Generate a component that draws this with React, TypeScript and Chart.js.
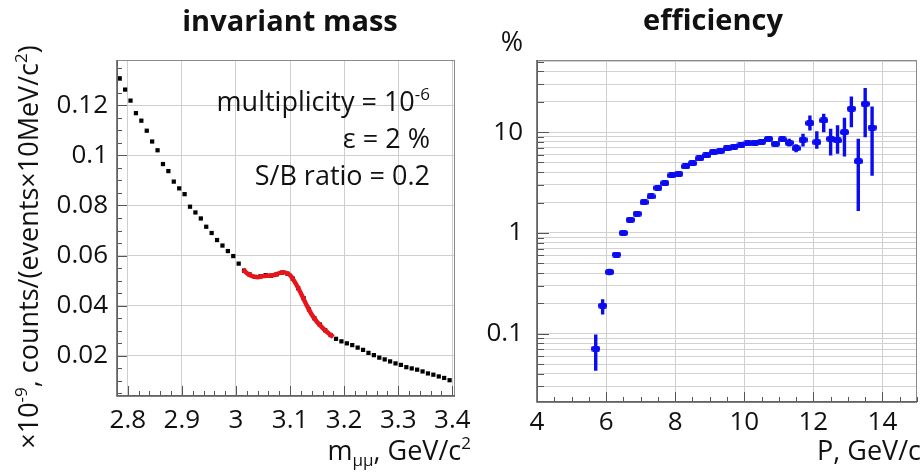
import React, { useEffect, useRef } from 'react';
import { Chart, registerables } from 'chart.js';
Chart.register(...registerables);

const FONT = '"Open Sans", "DejaVu Sans", sans-serif';
const TEXT = '#111';

// ---------- invariant mass ----------
const massBins = [
  2.785, 2.795, 2.805, 2.815, 2.825, 2.835, 2.845, 2.855, 2.865, 2.875,
  2.885, 2.895, 2.905, 2.915, 2.925, 2.935, 2.945, 2.955, 2.965, 2.975,
  2.985, 2.995, 3.005, 3.015, 3.025, 3.035, 3.045, 3.055, 3.065, 3.075,
  3.085, 3.095, 3.105, 3.115, 3.125, 3.135, 3.145, 3.155, 3.165, 3.175,
  3.185, 3.195, 3.205, 3.215, 3.225, 3.235, 3.245, 3.255, 3.265, 3.275,
  3.285, 3.295, 3.305, 3.315, 3.325, 3.335, 3.345, 3.355, 3.365, 3.375,
  3.385, 3.395,
];
const massCounts = [
  0.1307, 0.1262, 0.1218, 0.1168, 0.1138, 0.1098, 0.1055, 0.102, 0.0965, 0.0937,
  0.0895, 0.0868, 0.0845, 0.0795, 0.0772, 0.0748, 0.0715, 0.069, 0.0662, 0.064,
  0.0618, 0.0598, 0.0568, 0.054, 0.0525, 0.0515, 0.0517, 0.0522, 0.052, 0.0525,
  0.0532, 0.0528, 0.0508, 0.047, 0.043, 0.0385, 0.035, 0.0325, 0.0302, 0.0283,
  0.0268, 0.0258, 0.025, 0.0243, 0.0233, 0.0224, 0.0212, 0.0203, 0.0193, 0.0186,
  0.0178, 0.017, 0.0164, 0.0155, 0.015, 0.0145, 0.0138, 0.013, 0.0125, 0.0118,
  0.0112, 0.0103,
];
const fitMass = [3.013, 3.02, 3.03, 3.04, 3.05, 3.06, 3.07, 3.08, 3.09, 3.1, 3.11, 3.12, 3.13, 3.14, 3.15, 3.16, 3.17, 3.18];
const fitCounts = [0.0545, 0.053, 0.0518, 0.0514, 0.0518, 0.052, 0.0522, 0.053, 0.0533, 0.0522, 0.049, 0.045, 0.0405, 0.0365, 0.0335, 0.0312, 0.0292, 0.0275];
const massXTicks = [2.8, 2.9, 3, 3.1, 3.2, 3.3, 3.4];
const countYTicks = [0.02, 0.04, 0.06, 0.08, 0.1, 0.12];

// ---------- efficiency ----------
const momentum = [
  5.7, 5.9, 6.1, 6.3, 6.5, 6.7, 6.9, 7.1, 7.3, 7.5, 7.7, 7.9, 8.1, 8.3, 8.5, 8.7, 8.9, 9.1, 9.3, 9.5,
  9.7, 9.9, 10.1, 10.3, 10.5, 10.7, 10.9, 11.1, 11.3, 11.5, 11.7, 11.9, 12.1, 12.3, 12.5, 12.7, 12.9,
  13.1, 13.3, 13.5, 13.7,
];
const efficiency = [
  0.071, 0.19, 0.41, 0.61, 1.0, 1.35, 1.55, 2.02, 2.3, 2.8, 3.12, 3.72, 3.86, 4.57, 4.92, 5.48, 5.87,
  6.3, 6.49, 6.89, 7.1, 7.38, 7.73, 7.85, 8.03, 8.6, 7.67, 8.47, 7.85, 6.93, 8.41, 12.3, 7.96, 13.1,
  8.6, 8.28, 10.0, 17.1, 5.15, 19.1, 11.1,
];
const effLow = [
  0.043, 0.155, 0.38, 0.58, 0.97, 1.3, 1.5, 1.96, 2.24, 2.73, 3.04, 3.63, 3.77, 4.46, 4.8, 5.35, 5.73,
  6.15, 6.33, 6.72, 6.92, 7.19, 7.53, 7.65, 7.82, 8.3, 7.3, 8.0, 7.2, 6.3, 7.2, 10.4, 6.84, 10.0,
  5.87, 6.1, 5.74, 11.2, 1.65, 8.9, 3.7,
];
const effHigh = [
  0.098, 0.22, 0.44, 0.64, 1.03, 1.4, 1.6, 2.08, 2.36, 2.87, 3.2, 3.81, 3.95, 4.68, 5.04, 5.61, 6.01,
  6.45, 6.65, 7.06, 7.28, 7.57, 7.93, 8.05, 8.24, 8.9, 8.05, 8.95, 8.6, 7.6, 9.63, 14.6, 10.2, 15.2,
  10.8, 11.7, 13.9, 22.6, 8.6, 27.5, 18.0,
];
const pXTicks = [4, 6, 8, 10, 12, 14];
const effYTicks = [
  0.03, 0.04, 0.05, 0.06, 0.07, 0.08, 0.09, 0.1, 0.2, 0.3, 0.4, 0.5, 0.6, 0.7, 0.8, 0.9,
  1, 2, 3, 4, 5, 6, 7, 8, 9, 10, 20, 30, 40, 50,
];
const effLabelled = [0.1, 1, 10];

type Seg = { t: string; k?: 'sup' | 'sub' };

function drawRich(ctx: CanvasRenderingContext2D, segs: Seg[], x: number, y: number, size: number, align: string, weight = 'normal') {
  const f = (k?: string) => `${weight} ${k ? Math.round(size * 0.62) : size}px ${FONT}`;
  let w = 0;
  for (const s of segs) { ctx.font = f(s.k); w += ctx.measureText(s.t).width; }
  let cx = align === 'right' ? x - w : align === 'center' ? x - w / 2 : x;
  ctx.textAlign = 'left';
  ctx.textBaseline = 'alphabetic';
  for (const s of segs) {
    ctx.font = f(s.k);
    const dy = s.k === 'sup' ? -size * 0.4 : s.k === 'sub' ? size * 0.22 : 0;
    ctx.fillText(s.t, cx, y + dy);
    cx += ctx.measureText(s.t).width;
  }
}

function drawFrame(ctx: CanvasRenderingContext2D, a: any) {
  ctx.strokeStyle = '#8a8a8a';
  ctx.lineWidth = 1;
  ctx.strokeRect(a.left + 0.5, a.top + 0.5, a.right - a.left - 1, a.bottom - a.top - 1);
  ctx.strokeStyle = '#555';
  ctx.lineWidth = 1.5;
  ctx.beginPath();
  ctx.moveTo(a.left, a.top);
  ctx.lineTo(a.left, a.bottom);
  ctx.lineTo(a.right, a.bottom);
  ctx.stroke();
}

const massDecor = {
  id: 'massDecor',
  afterDraw(chart: any) {
    const { ctx, chartArea: a, scales } = chart;
    const xs = scales.x, ys = scales.y;
    ctx.save();
    ctx.strokeStyle = '#555';
    ctx.lineWidth = 1;
    ctx.beginPath();
    for (let k = 0; k <= 31; k++) {
      const n = 278 + 2 * k;
      const px = Math.round(xs.getPixelForValue(n / 100)) + 0.5;
      const len = n % 10 === 0 ? 10 : 5;
      ctx.moveTo(px, a.bottom);
      ctx.lineTo(px, a.bottom - len);
    }
    for (let k = 1; k <= 27; k++) {
      const py = Math.round(ys.getPixelForValue((5 * k) / 1000)) + 0.5;
      const len = k % 4 === 0 ? 10 : 5;
      ctx.moveTo(a.left, py);
      ctx.lineTo(a.left + len, py);
    }
    ctx.stroke();
    drawFrame(ctx, a);

    ctx.fillStyle = TEXT;
    drawRich(ctx, [{ t: 'invariant mass' }], (a.left + a.right) / 2 + 4, 31, 29, 'center', 'bold');
    drawRich(ctx, [{ t: 'multiplicity = 10' }, { t: '-6', k: 'sup' }], 430, 111, 27, 'right');
    drawRich(ctx, [{ t: 'ε = 2 %' }], 430, 148, 27, 'right');
    drawRich(ctx, [{ t: 'S/B ratio = 0.2' }], 430, 185, 27, 'right');
    drawRich(ctx, [{ t: 'm' }, { t: 'μμ', k: 'sub' }, { t: ', GeV/c' }, { t: '2', k: 'sup' }], 471, 460, 27, 'right');
    ctx.translate(38, 247);
    ctx.rotate(-Math.PI / 2);
    drawRich(ctx, [{ t: '×10' }, { t: '-9', k: 'sup' }, { t: ', counts/(events×10MeV/c' }, { t: '2', k: 'sup' }, { t: ')' }], 0, 0, 27, 'center');
    ctx.restore();
  },
};

const effDecor = {
  id: 'effDecor',
  beforeDatasetsDraw(chart: any) {
    const { ctx, chartArea: a, scales } = chart;
    ctx.save();
    ctx.beginPath();
    ctx.rect(a.left, a.top, a.right - a.left, a.bottom - a.top);
    ctx.clip();
    ctx.strokeStyle = '#0b0bf0';
    ctx.lineWidth = 3.4;
    ctx.beginPath();
    for (let i = 0; i < momentum.length; i++) {
      const px = scales.x.getPixelForValue(momentum[i]);
      ctx.moveTo(px, scales.y.getPixelForValue(effLow[i]));
      ctx.lineTo(px, scales.y.getPixelForValue(effHigh[i]));
    }
    ctx.stroke();
    ctx.restore();
  },
  afterDraw(chart: any) {
    const { ctx, chartArea: a, scales } = chart;
    const xs = scales.x, ys = scales.y;
    ctx.save();
    ctx.strokeStyle = '#555';
    ctx.lineWidth = 1;
    ctx.beginPath();
    for (let k = 0; k <= 22; k++) {
      const px = Math.round(xs.getPixelForValue(4 + 0.5 * k)) + 0.5;
      const len = k % 4 === 0 ? 10 : 5;
      ctx.moveTo(px, a.bottom);
      ctx.lineTo(px, a.bottom - len);
    }
    for (const v of effYTicks) {
      const py = Math.round(ys.getPixelForValue(v)) + 0.5;
      const len = effLabelled.includes(v) ? 12 : 7;
      ctx.moveTo(a.left, py);
      ctx.lineTo(a.left + len, py);
    }
    ctx.stroke();
    drawFrame(ctx, a);
    ctx.fillStyle = TEXT;
    drawRich(ctx, [{ t: 'efficiency' }], 243, 30, 29, 'center', 'bold');
    drawRich(ctx, [{ t: '%' }], 42, 51, 27, 'center');
    drawRich(ctx, [{ t: 'P, GeV/c' }], 451, 460, 27, 'right');
    ctx.restore();
  },
};

function tickFont() {
  return { family: FONT, size: 26 };
}

export default function App() {
  const leftRef = useRef<HTMLCanvasElement>(null);
  const rightRef = useRef<HTMLCanvasElement>(null);

  useEffect(() => {
    const marker = document.createElement('canvas');
    marker.width = 9;
    marker.height = 6;
    const mctx = marker.getContext('2d')!;
    mctx.fillStyle = '#0b0bf0';
    mctx.beginPath();
    (mctx as any).roundRect ? (mctx as any).roundRect(0, 0, 9, 6, 2.5) : mctx.rect(0, 0, 9, 6);
    mctx.fill();

    const left = new Chart(leftRef.current!, {
      type: 'scatter',
      data: {
        datasets: [
          {
            data: massBins.map((m, i) => ({ x: m, y: massCounts[i] })),
            pointStyle: 'rect',
            pointRadius: 3,
            backgroundColor: '#000',
            borderColor: '#000',
            borderWidth: 0,
            showLine: false,
            order: 2,
          },
          {
            data: fitMass.map((m, i) => ({ x: m, y: fitCounts[i] })),
            showLine: true,
            borderColor: '#e8141a',
            borderWidth: 4.5,
            pointRadius: 0,
            tension: 0.35,
            order: 1,
          },
        ],
      },
      options: {
        animation: false,
        responsive: false,
        maintainAspectRatio: false,
        layout: { padding: { top: 60, right: 15, left: 0, bottom: 0 } },
        plugins: { legend: { display: false }, tooltip: { enabled: false }, title: { display: false } },
        scales: {
          x: {
            type: 'linear',
            min: 2.78,
            max: 3.405,
            afterBuildTicks: (s: any) => { s.ticks = massXTicks.map((v) => ({ value: v })); },
            afterFit: (s: any) => { s.height = 77; s.paddingLeft = 0; s.paddingRight = 0; },
            grid: { color: '#cfcfcf', drawTicks: false, lineWidth: 1 },
            border: { display: false },
            ticks: { font: tickFont(), color: TEXT, padding: 9, maxRotation: 0, autoSkip: false, callback: (v: any) => String(v) },
          },
          y: {
            type: 'linear',
            min: 0.004,
            max: 0.138,
            afterBuildTicks: (s: any) => { s.ticks = countYTicks.map((v) => ({ value: v })); },
            afterFit: (s: any) => { s.width = 117; s.paddingTop = 0; s.paddingBottom = 0; },
            grid: { color: '#cfcfcf', drawTicks: false, lineWidth: 1 },
            border: { display: false },
            ticks: { font: tickFont(), color: TEXT, padding: 9, autoSkip: false, callback: (v: any) => String(v) },
          },
        },
      },
      plugins: [massDecor],
    } as any);

    const right = new Chart(rightRef.current!, {
      type: 'scatter',
      data: {
        datasets: [
          {
            data: momentum.map((p, i) => ({ x: p, y: efficiency[i] })),
            pointStyle: marker,
            pointRadius: 4,
            showLine: false,
          },
        ],
      },
      options: {
        animation: false,
        responsive: false,
        maintainAspectRatio: false,
        layout: { padding: { top: 60, right: 6, left: 0, bottom: 0 } },
        plugins: { legend: { display: false }, tooltip: { enabled: false }, title: { display: false } },
        scales: {
          x: {
            type: 'linear',
            min: 4,
            max: 15,
            afterBuildTicks: (s: any) => { s.ticks = pXTicks.map((v) => ({ value: v })); },
            afterFit: (s: any) => { s.height = 71; s.paddingLeft = 0; s.paddingRight = 0; },
            grid: { color: '#cfcfcf', drawTicks: false, lineWidth: 1 },
            border: { display: false },
            ticks: { font: tickFont(), color: TEXT, padding: 5, maxRotation: 0, autoSkip: false, callback: (v: any) => String(v) },
          },
          y: {
            type: 'logarithmic',
            min: 0.021,
            max: 52,
            afterBuildTicks: (s: any) => { s.ticks = effYTicks.map((v) => ({ value: v })); },
            afterFit: (s: any) => { s.width = 67; s.paddingTop = 0; s.paddingBottom = 0; },
            grid: { color: '#d2d2d2', drawTicks: false, lineWidth: 1 },
            border: { display: false },
            ticks: {
              font: tickFont(),
              color: TEXT,
              padding: 14,
              autoSkip: false,
              callback: (v: any) => (effLabelled.includes(v) ? String(v) : ''),
            },
          },
        },
      },
      plugins: [effDecor],
    } as any);

    return () => {
      left.destroy();
      right.destroy();
    };
  }, []);

  return (
    <div style={{ position: 'fixed', left: 0, top: 0, width: 923, height: 473, background: '#fff' }}>
      <canvas ref={leftRef} width={470} height={473} style={{ position: 'absolute', left: 0, top: 0 }} />
      <canvas ref={rightRef} width={453} height={473} style={{ position: 'absolute', left: 470, top: 0 }} />
    </div>
  );
}
